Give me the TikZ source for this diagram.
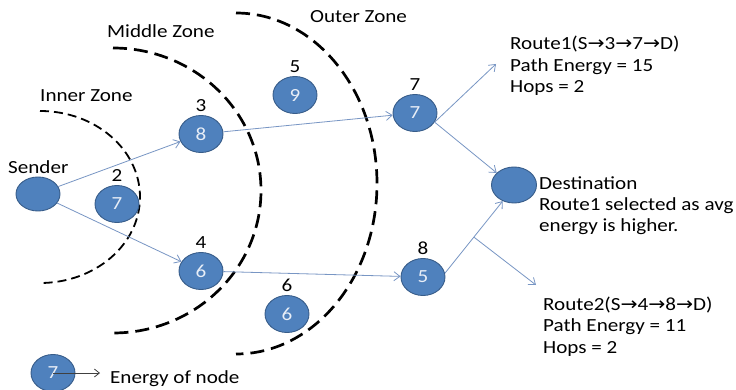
\documentclass[tikz,border=0pt]{standalone}
\usepackage{fontspec}
\setmainfont{Carlito}[FakeStretch=1.14]
\newfontfamily\arrowfont{DejaVu Sans}[FakeStretch=1.1]
\usetikzlibrary{arrows.meta,shapes.geometric}

\definecolor{nodeblue}{HTML}{4F81BD}
\definecolor{nodeedge}{HTML}{385D8A}
\definecolor{linkblue}{HTML}{7896C4}
\definecolor{digitwhite}{HTML}{E8EEF7}
\newcommand{\hopto}{{\arrowfont\char"2192}}

\tikzset{
  sensor/.style={ellipse, fill=nodeblue, draw=nodeedge, line width=0.9pt,
    minimum width=44pt, minimum height=37pt, inner sep=0pt, text=digitwhite},
  idlabel/.style={inner sep=0pt, text=black},
  link/.style={draw=linkblue, line width=0.8pt,
    -{Straight Barb[length=6pt,width=9pt]}},
  legendlink/.style={draw=black!75, line width=0.8pt,
    -{Straight Barb[length=5pt,width=8pt]}},
  innerzone/.style={line width=1.8pt, dash pattern=on 9pt off 5pt},
  outerzones/.style={line width=2.7pt, dash pattern=on 14pt off 7pt},
  txt/.style={inner sep=0pt, anchor=base west, align=left},
}

\begin{document}
\begin{tikzpicture}[x=1pt, y=-1pt, label distance=3pt,
  font=\fontsize{18.5pt}{21.5pt}\selectfont]
  \fill[white] (0,0) rectangle (736,390);
  \useasboundingbox (0,0) rectangle (736,390);

  % zone boundaries
  \draw[innerzone]  (40,111) arc[start angle=-90, end angle=90, x radius=100, y radius=86];
  \draw[outerzones] (113,48) arc[start angle=-90, end angle=90, x radius=148, y radius=142.5];
  \draw[outerzones] (236,13) arc[start angle=-90, end angle=90, x radius=141, y radius=170.5];

  % zone titles
  \node[txt] (tinner)  at (40,102)  {Inner Zone};
  \node[txt] (tmiddle) at (107,38)  {Middle Zone};
  \node[txt] (touter)  at (310,23)  {Outer Zone};

  % sensor nodes
  \node[sensor, minimum height=34pt] (snd) at (38,194) {};
  \node[txt] (tsnd) at (8,174) {Sender};
  \node[sensor, label={[idlabel]above:2}] (n2) at (117,204) {7};
  \node[sensor, label={[idlabel]above:3}] (n3) at (201,134) {8};
  \node[sensor, label={[idlabel]above:5}] (n5) at (295,95)  {9};
  \node[sensor, label={[idlabel]above:4}] (n4) at (201,271) {6};
  \node[sensor, label={[idlabel]above:6}] (n6) at (287,314) {6};
  \node[sensor, label={[idlabel]above:7}] (n7) at (415,113) {7};
  \node[sensor, label={[idlabel]above:8}] (n8) at (423,277) {5};
  \node[sensor, minimum width=45pt, minimum height=36pt] (dest) at (514,185) {};

  % route notes (anchored at the baseline of their last line)
  \node[txt] (troute1) at (510,93)
    {Route1(S\hopto3\hopto7\hopto D)\\Path Energy = 15\\Hops = 2};
  \node[txt] (tdest) at (539,232)
    {Destination\\Route1 selected as avg\\energy is higher.};
  \node[txt] (troute2) at (543,353)
    {Route2(S\hopto4\hopto8\hopto D)\\Path Energy = 11\\Hops = 2};

  % links
  \draw[link] (snd) -- (n3);
  \draw[link] (snd) -- (n4);
  \draw[link] (n3) -- (n7);
  \draw[link] (n4) -- (n8);
  \coordinate (r1tip) at (496,64);
  \draw[link] (n7.-25) -- (r1tip);
  \draw[link] (n7.-25) -- (dest.145);
  \draw[link] (n8.10) -- coordinate[pos=0.5] (fork) (dest.235);
  \coordinate (r2tip) at (536,285);
  \draw[link] (fork) -- (r2tip);

  % legend
  \node[sensor] (lg) at (53,373) {7};
  \coordinate (lgtip) at (100,373);
  \draw[legendlink] (lg.center) -- (lgtip);
  \node[txt] (tlg) at (110,383) {Energy of node};
\end{tikzpicture}
\end{document}
